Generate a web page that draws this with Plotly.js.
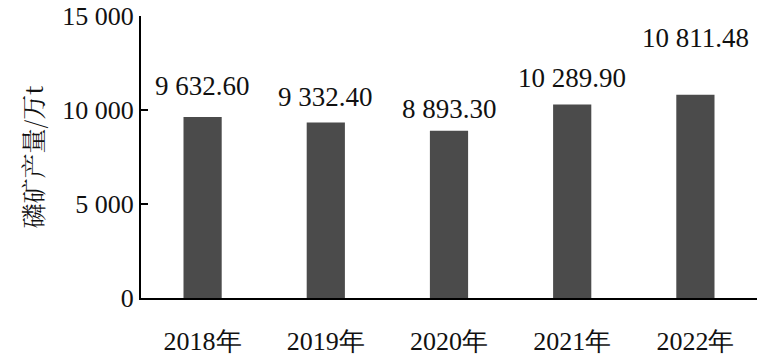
<!DOCTYPE html>
<html><head><meta charset="utf-8"><script src="https://cdn.plot.ly/plotly-3.0.1.min.js"></script></head>
<body style="margin:0;background:#fff">
<div id="chart" style="width:762px;height:360px"></div>
<script>
const categories = ["2018年", "2019年", "2020年", "2021年", "2022年"];
const production = [9632.60, 9332.40, 8893.30, 10289.90, 10811.48];
const yTickValues = [0, 5000, 10000, 15000];

const labelShift = [31, 26, 22, 27, 57];

function fmtNum(v) {
  const parts = v.toFixed(2).split('.');
  return parts[0].replace(/\B(?=(\d{3})+(?!\d))/g, ' ') + '.' + parts[1];
}
const annotations = categories.map((c, i) => ({
  x: c, y: production[i], xref: 'x', yref: 'y',
  text: fmtNum(production[i]),
  showarrow: false, yanchor: 'middle', yshift: labelShift[i],
  font: {family: 'Liberation Serif', size: 27, color: '#111'}
}));

const data = [{
  type: 'bar', x: categories, y: production,
  marker: {color: '#4b4b4b'}
}];

const layout = {
  width: 762, height: 360,
  margin: {l: 141, r: 5, t: 16, b: 62},
  separators: '. ',
  bargap: 0.69,
  showlegend: false,
  font: {family: 'Liberation Serif', size: 26, color: '#111'},
  xaxis: {
    showline: true, linecolor: '#000', linewidth: 2,
    ticks: 'outside', ticklen: 19, tickcolor: 'rgba(0,0,0,0)',
    showgrid: false, zeroline: false
  },
  yaxis: {
    range: [0, 15000], tickvals: yTickValues,
    tickformat: ',d', ticksuffix: '\u00a0\u00a0',
    showline: true, linecolor: '#000', linewidth: 2,
    ticks: 'inside', ticklen: 7, tickwidth: 2, tickcolor: '#000',
    showgrid: false, zeroline: false,
    title: {text: '磷矿产量/万t', font: {family: 'Noto Serif CJK SC', size: 25, color: '#111'}, standoff: 12}
  },
  annotations: annotations
};

Plotly.newPlot('chart', data, layout, {staticPlot: true, displayModeBar: false});
</script>
</body>
</html>
